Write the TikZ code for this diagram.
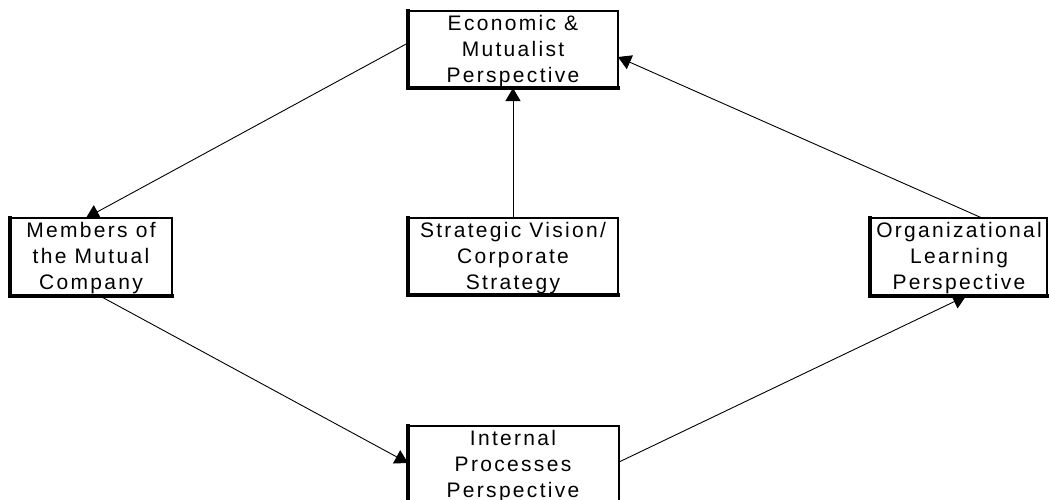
\documentclass[tikz,border=0pt]{standalone}
\usepackage{fontspec}
\setmainfont{Liberation Sans}[LetterSpace=11]
\usetikzlibrary{arrows.meta}
\begin{document}
\begin{tikzpicture}[x=1pt,y=-1pt,
  box/.style={draw=black,line width=1.5pt,inner sep=0pt,outer sep=0pt},
  txt/.style={anchor=base,align=center,font=\fontsize{21}{26}\selectfont,inner sep=0pt},
  conn/.style={line width=0.9pt,-{Triangle[length=13pt,width=15pt]}},
  shadowline/.style={line width=3.4pt,line cap=rect}]
\useasboundingbox (0,0) rectangle (1049,499);
\clip (0,0) rectangle (1049,499);
\fill[white] (0,0) rectangle (1049,499);
% boxes
\node[box,minimum width=210pt,minimum height=77pt] (top) at (513,49.5) {};
\node[box,minimum width=162pt,minimum height=78pt] (left) at (91,257) {};
\node[box,minimum width=210pt,minimum height=77pt] (mid) at (513,256.5) {};
\node[box,minimum width=177pt,minimum height=78pt] (right) at (958.5,257) {};
\node[box,minimum width=211pt,minimum height=77pt] (bot) at (513.5,464.5) {};
% heavier left and bottom edges
\foreach \b in {top,left,mid,right,bot}{
  \draw[shadowline] (\b.north west) -- (\b.south west) -- (\b.south east);
}
% texts (anchored at the baseline of the last line)
\node[txt] (ttop) at (513,82) {Economic \&\\Mutualist\\Perspective};
\node[txt] (tleft) at (91,289) {Members of\\the Mutual\\Company};
\node[txt] (tmid) at (513,289) {Strategic Vision/\\Corporate\\Strategy};
\node[txt] (tright) at (959,289) {Organizational\\Learning\\Perspective};
\node[txt] (tbot) at (513,497) {Internal\\Processes\\Perspective};
% connectors
\coordinate (a1) at (top.west |- 0,43);
\coordinate (a2) at (86,218);
\draw[conn] (a1) -- (a2);
\draw[conn] (mid.north) -- (top.south);
\coordinate (b1) at (982,218);
\coordinate (b2) at (top.east |- 0,57);
\draw[conn] (b1) -- (b2);
\coordinate (c1) at (100,296);
\coordinate (c2) at (bot.west |- 0,463);
\draw[conn] (c1) -- (c2);
\coordinate (d1) at (bot.east |- 0,462);
\coordinate (d2) at (966,296);
\draw[conn] (d1) -- (d2);
\end{tikzpicture}
\end{document}
